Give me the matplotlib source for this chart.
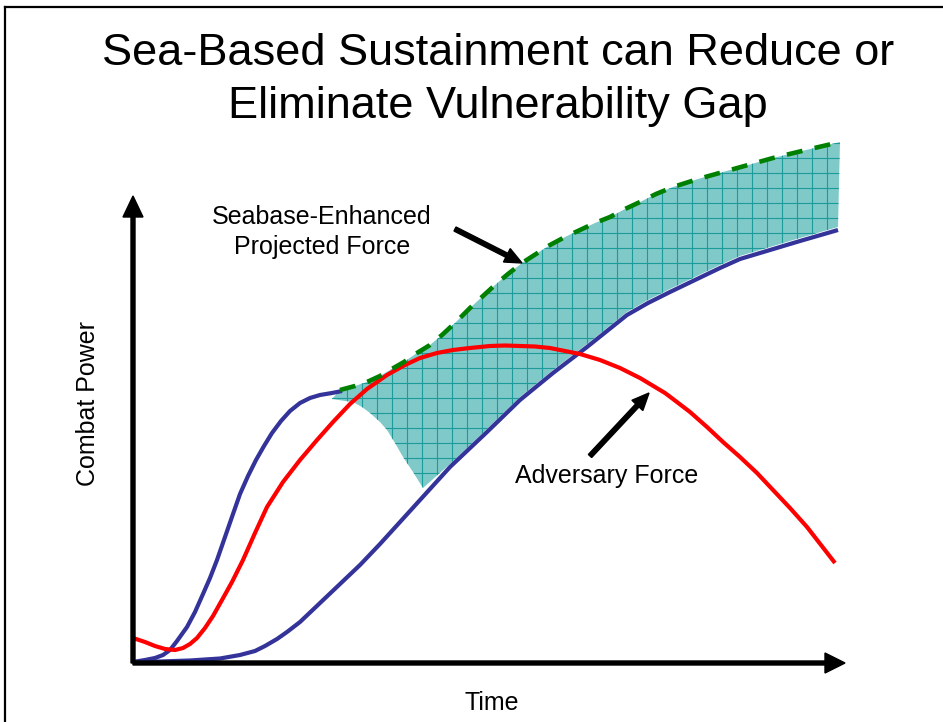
import numpy as np
import matplotlib
matplotlib.use("Agg")
import matplotlib.pyplot as plt
from matplotlib.patches import Polygon

plt.rcParams['font.family'] = ['Liberation Sans', 'DejaVu Sans']
plt.rcParams['lines.scale_dashes'] = False

# Conceptual curves: time (x) vs combat power (y), origin at the axis corner
early_t = [0, 12, 22, 30, 37, 44, 54, 62, 70, 77, 84, 92, 100, 107, 115, 123, 131,
           139, 148, 157, 167, 177, 187, 199, 209]
early_p = [0, 2, 4, 7, 12, 21, 35, 50, 68, 84, 102, 125, 148, 168, 186, 202, 216,
           229, 241, 251, 259, 264, 267, 269, 271]

enhanced_t = [207, 222, 234, 247, 257, 271, 284, 297, 309, 323, 337, 350, 362, 375, 389,
              403, 417, 432, 447, 462, 477, 492, 507, 523, 540, 565, 590, 615, 640, 673, 707]
enhanced_p = [272, 276, 280, 286, 292, 300, 309, 317, 327, 340, 354, 366, 377, 388, 399,
              408, 417, 425, 432, 439, 445, 453, 460, 468, 475, 483, 490, 497, 504, 512, 520]

projected_t = [0, 27, 57, 87, 107, 122, 132, 144, 154, 167, 187, 207, 227, 247, 267, 287,
               317, 354, 387, 420, 454, 474, 494, 515, 537, 562, 587, 607, 637, 667, 705]
projected_p = [0, 0.5, 1.5, 3.5, 7, 11, 16, 23, 30, 40, 59, 78, 97, 118, 140, 162,
               195, 230, 262, 289, 315, 331, 347, 359, 370, 382, 394, 403, 412, 421, 432]

adversary_t = [0, 12, 22, 32, 42, 50, 57, 64, 72, 80, 89, 99, 110, 122, 134, 150, 167, 184,
               200, 217, 234, 254, 272, 287, 304, 320, 337, 357, 372, 387, 402, 417, 432,
               447, 467, 487, 507, 522, 532, 540, 557, 574, 590, 607, 624, 640, 657, 674, 688, 702]
adversary_p = [24, 20, 16, 13, 12, 14, 18, 24, 34, 46, 62, 80, 102, 129, 155, 180, 202, 222,
               240, 258, 273, 287, 297, 304, 309, 312, 314, 316, 316.5, 316, 315.5, 314, 311,
               308, 302, 294, 284, 275, 269, 263, 250, 235, 220, 205, 189, 172, 154, 135, 117, 99]

# left edge of the vulnerability gap area (below the dashed curve)
gap_t = [199, 212, 220, 229, 237, 247, 254, 262, 270, 280, 290]
gap_p = [263, 261, 260, 255, 249, 240, 232, 219, 205, 190, 174]

BLUE = '#333399'
RED = '#ff0000'
GREEN = '#008000'
FILL = '#80c9c9'
GRID = '#1c9b9b'

fig = plt.figure(figsize=(9.43, 7.22), dpi=100)
ax = fig.add_axes([0, 0, 1, 1])
ax.set_xlim(-133, 810)
ax.set_ylim(-60, 662)
ax.axis('off')

# shaded gap between enhanced force and baseline projected force
proj_t = np.array(projected_t)
proj_p = np.array(projected_p)
keep = proj_t >= 317
poly_x = np.concatenate([enhanced_t, proj_t[keep][::-1], gap_t[::-1]])
poly_y = np.concatenate([enhanced_p, proj_p[keep][::-1] + 3, gap_p[::-1]])
patch = Polygon(np.column_stack([poly_x, poly_y]), closed=True,
                facecolor=FILL, edgecolor='none', zorder=1)
ax.add_patch(patch)

for gx in np.arange(3.7, 720, 15):
    ln, = ax.plot([gx, gx], [150, 540], color=GRID, lw=0.8, zorder=1.5)
    ln.set_clip_path(patch)
for gy in np.arange(8.7, 540, 15):
    ln, = ax.plot([190, 720], [gy, gy], color=GRID, lw=0.8, zorder=1.5)
    ln.set_clip_path(patch)

ax.plot(projected_t, projected_p, color=BLUE, lw=3, zorder=3, solid_capstyle='butt')
ax.plot(adversary_t, adversary_p, color=RED, lw=3, zorder=4, solid_capstyle='butt')
ax.plot(early_t, early_p, color=BLUE, lw=3, zorder=3, solid_capstyle='butt')
ax.plot(enhanced_t, enhanced_p, color=GREEN, lw=3.3, zorder=5,
        linestyle=(0, (11.5, 9)), dash_capstyle='butt')

# axes with arrow heads
ax.arrow(0, -1, 0, 467, width=4, head_width=20, head_length=21,
         length_includes_head=True, color='black', zorder=6)
ax.arrow(0, -1, 712, 0, width=4, head_width=20, head_length=20,
         length_includes_head=True, color='black', zorder=6)

# pointer arrows
ax.arrow(322, 433, 67, -34, width=4.5, head_width=15, head_length=17,
         length_includes_head=True, color='black', zorder=6)
ax.arrow(457, 206, 59, 63, width=4.5, head_width=15, head_length=17,
         length_includes_head=True, color='black', zorder=6)

# frame
ax.plot([-128, 810], [655, 655], color='black', lw=1.6, clip_on=False)
ax.plot([-128, -128], [655, -60], color='black', lw=1.6, clip_on=False)

ax.text(365, 582, "Sea-Based Sustainment can Reduce or\nEliminate Vulnerability Gap",
        ha='center', va='center', fontsize=32.5, linespacing=1.35)
ax.text(189, 430, "Seabase-Enhanced\nProjected Force", ha='center', va='center',
        fontsize=18, linespacing=1.32)
ax.text(474, 186, "Adversary Force", ha='center', va='center', fontsize=18)
ax.text(359, -41, "Time", ha='center', va='center', fontsize=18)
ax.text(-45, 259, "Combat Power", ha='center', va='center', fontsize=18, rotation=90)

fig.savefig('out.png', dpi=100)
